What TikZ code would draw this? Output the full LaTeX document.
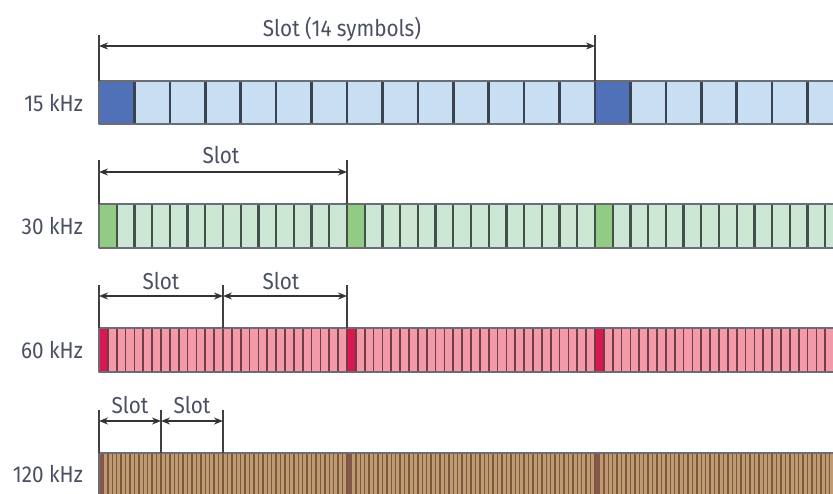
\documentclass[tikz,border=0pt]{standalone}
\usepackage{fontspec}
\setmainfont{Fira Sans}[FakeStretch=0.9]
\usetikzlibrary{arrows.meta}
\definecolor{txtgray}{HTML}{4A5062}
\definecolor{bargray}{HTML}{6A6E74}
\definecolor{bluelight}{HTML}{C8DEF2}
\definecolor{bluedark}{HTML}{5071B7}
\definecolor{blueline}{HTML}{3C4350}
\definecolor{greenlight}{HTML}{CDE7D5}
\definecolor{greendark}{HTML}{92CB84}
\definecolor{greenline}{HTML}{46504A}
\definecolor{pinklight}{HTML}{F499A7}
\definecolor{pinkdark}{HTML}{DC1650}
\definecolor{pinkline}{HTML}{6E3E4A}
\definecolor{brownlight}{HTML}{BF9A72}
\definecolor{browndark}{HTML}{8A5650}
\definecolor{brownline}{HTML}{7A5A3A}
\tikzset{
  lbl/.style={font=\fontsize{23}{23}\selectfont, text=txtgray, inner sep=1pt},
  dimline/.style={line width=1.3pt, draw=black!75},
  dimarrow/.style={<->, line width=1.5pt, draw=black!80}
}
\begin{document}
\begin{tikzpicture}[x=1pt, y=-1pt, >={Stealth[length=9pt,width=7pt]}, line join=round]
	\useasboundingbox (0,0) rectangle (833,493);
	% 15 kHz
	\fill[bluelight] (99,81) rectangle (840,124);
	\foreach \k in {0,14,28}
		\fill[bluedark] ({99+\k*35.43},81) rectangle ({99+(\k+1)*35.43},124);
	\foreach \k in {1,...,21}
		\draw[line width=2.5pt, blueline] ({99+\k*35.43},81) -- ({99+\k*35.43},124);
	\draw[line width=2.2pt, bargray] (840,81) -- (99,81) -- (99,124) -- (840,124);
	\node[lbl, anchor=east] (f15) at (84,103) {15 kHz};
	% 30 kHz
	\fill[greenlight] (99,204) rectangle (840,248);
	\foreach \k in {0,14,28}
		\fill[greendark] ({99+\k*17.714},204) rectangle ({99+(\k+1)*17.714},248);
	\foreach \k in {1,...,42}
		\draw[line width=2.2pt, greenline] ({99+\k*17.714},204) -- ({99+\k*17.714},248);
	\draw[line width=2.2pt, bargray] (840,204) -- (99,204) -- (99,248) -- (840,248);
	\node[lbl, anchor=east] (f30) at (84,226) {30 kHz};
	% 60 kHz
	\fill[pinklight] (99,328) rectangle (840,372);
	\foreach \k in {0,28,56}
		\fill[pinkdark] ({99+\k*8.857},328) rectangle ({99+(\k+1)*8.857},372);
	\foreach \k in {1,...,83}
		\draw[line width=1.8pt, pinkline] ({99+\k*8.857},328) -- ({99+\k*8.857},372);
	\draw[line width=2.2pt, bargray] (840,328) -- (99,328) -- (99,372) -- (840,372);
	\node[lbl, anchor=east] (f60) at (84,350) {60 kHz};
	% 120 kHz
	\fill[brownlight] (99,453) rectangle (840,500);
	\foreach \k in {0,56,112}
		\fill[browndark] ({99+\k*4.4286},453) rectangle ({99+(\k+1)*4.4286},500);
	\foreach \k in {1,...,166}
		\draw[line width=1.5pt, brownline] ({99+\k*4.4286},453) -- ({99+\k*4.4286},500);
	\draw[line width=2.2pt, bargray] (840,453) -- (99,453) -- (99,500);
	\node[lbl, anchor=east] (f120) at (84,474) {120 kHz};
	% slot markers
	\coordinate (a0) at (99,46);   \coordinate (a1) at (595,46);
	\coordinate (b0) at (99,172);  \coordinate (b1) at (347,172);
	\coordinate (c0) at (99,296);  \coordinate (c1) at (223,296); \coordinate (c2) at (347,296);
	\coordinate (d0) at (99,421);  \coordinate (d1) at (161,421); \coordinate (d2) at (223,421);
	\draw[dimline] (99,35) -- (99,81) (595,35) -- (595,81);
	\draw[dimline] (99,160) -- (99,204) (347,160) -- (347,204);
	\draw[dimline] (99,285) -- (99,328) (223,285) -- (223,328) (347,285) -- (347,328);
	\draw[dimline] (99,410) -- (99,453) (161,410) -- (161,453) (223,410) -- (223,453);
	\draw[dimarrow] (a0) -- (a1);
	\draw[dimarrow] (b0) -- (b1);
	\draw[dimarrow] (c0) -- (c1);
	\draw[dimarrow] (c1) -- (c2);
	\draw[dimarrow] (d0) -- (d1);
	\draw[dimarrow] (d1) -- (d2);
	\node[lbl] (ta) at (342,29) {Slot (14 symbols)};
	\node[lbl] (tb) at (221,155) {Slot};
	\node[lbl] (tc1) at (161,281) {Slot};
	\node[lbl] (tc2) at (281,281) {Slot};
	\node[lbl] (td1) at (130,405) {Slot};
	\node[lbl] (td2) at (192,405) {Slot};
\end{tikzpicture}
\end{document}
